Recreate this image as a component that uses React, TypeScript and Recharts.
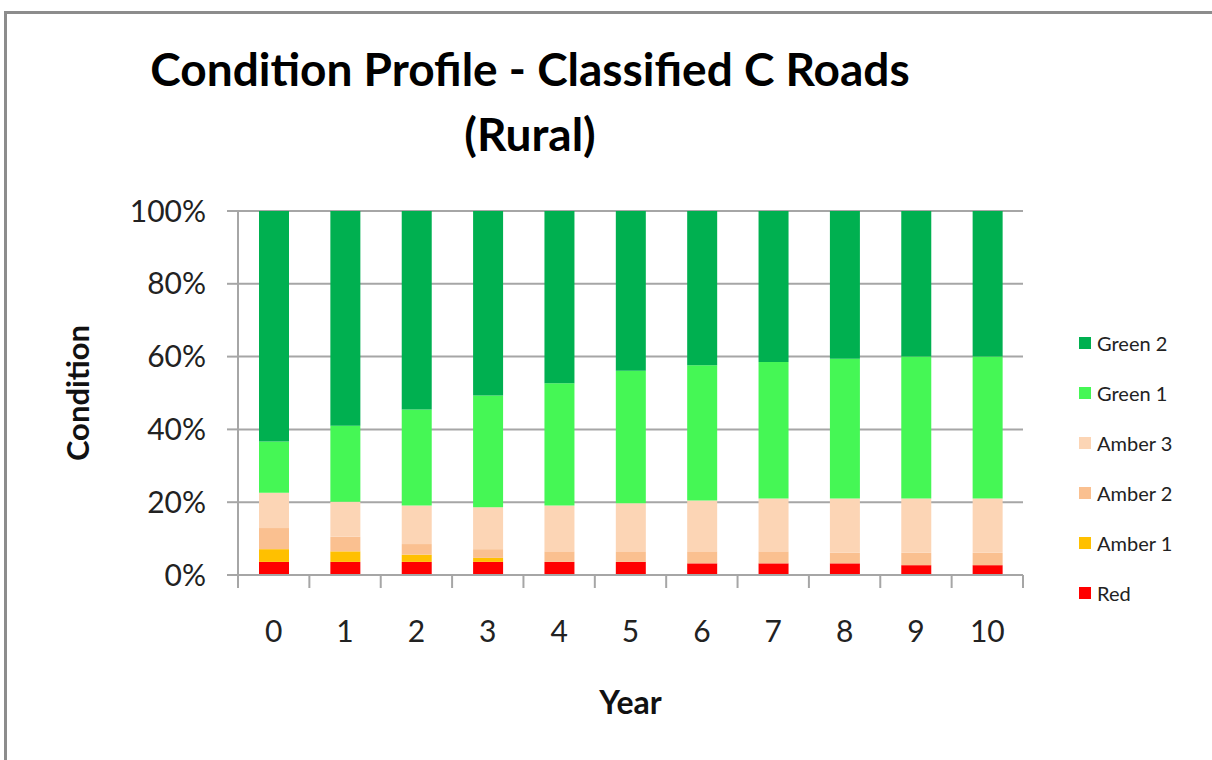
import { BarChart, Bar, XAxis, YAxis, CartesianGrid } from 'recharts';

const years = ['0', '1', '2', '3', '4', '5', '6', '7', '8', '9', '10'];
const red = [3.6, 3.6, 3.6, 3.6, 3.6, 3.6, 3.2, 3.2, 3.2, 2.7, 2.7];
const amber1 = [3.5, 2.9, 2.0, 1.1, 0, 0, 0, 0, 0, 0, 0];
const amber2 = [5.8, 4.0, 2.9, 2.4, 2.9, 2.9, 3.3, 3.3, 2.9, 3.4, 3.4];
const amber3 = [9.7, 9.6, 10.6, 11.5, 12.6, 13.2, 14.0, 14.5, 14.9, 14.9, 14.9];
const green1 = [14.1, 20.9, 26.4, 30.7, 33.6, 36.4, 37.1, 37.5, 38.4, 39.0, 39.0];
const green2 = [63.3, 59.0, 54.5, 50.7, 47.3, 43.9, 42.4, 41.5, 40.6, 40.0, 40.0];
const yTicks = [0, 20, 40, 60, 80, 100];

const series = [
  { key: 'red', name: 'Red', color: '#FF0000', values: red },
  { key: 'amber1', name: 'Amber 1', color: '#FFC000', values: amber1 },
  { key: 'amber2', name: 'Amber 2', color: '#FAC090', values: amber2 },
  { key: 'amber3', name: 'Amber 3', color: '#FCD5B5', values: amber3 },
  { key: 'green1', name: 'Green 1', color: '#45F755', values: green1 },
  { key: 'green2', name: 'Green 2', color: '#00B050', values: green2 },
];

const data = years.map((year, i) => {
  const row: Record<string, string | number> = { year };
  series.forEach((s) => {
    row[s.key] = s.values[i];
  });
  return row;
});

const W = 1212;
const H = 760;
const margin = { top: 211, right: 189, bottom: 0, left: 118 };
const Y_AXIS_W = 120;
const X_AXIS_H = 185;
const FONT = 'Lato, "Open Sans", sans-serif';
const GRID = '#A6A6A6';

const plotWidth = W - margin.left - Y_AXIS_W - margin.right;
const band = plotWidth / years.length;

// category tick: text in the middle, tick marks on the category boundaries (Excel style)
const XTick = (props: any) => {
  const { x, y, payload, index } = props;
  const top = y - 36;
  return (
    <g>
      <line x1={x - band / 2} x2={x - band / 2} y1={top} y2={top + 13} stroke={GRID} strokeWidth={2} />
      {index === years.length - 1 && (
        <line x1={x + band / 2} x2={x + band / 2} y1={top} y2={top + 13} stroke={GRID} strokeWidth={2} />
      )}
      <text x={x} y={y + 31} textAnchor="middle" fontSize={30} fill="#222" fontFamily={FONT}>
        {payload.value}
      </text>
    </g>
  );
};

export default function App() {
  return (
    <div style={{ position: 'absolute', left: 0, top: 0, width: W, height: H, background: '#fff', overflow: 'hidden' }}>
      <div
        style={{
          position: 'absolute',
          left: 4,
          top: 11,
          width: W,
          height: H,
          borderLeft: '3px solid #8C8C8C',
          borderTop: '3px solid #8C8C8C',
        }}
      />
      <div
        style={{
          position: 'absolute',
          left: 0,
          top: 36,
          width: 1060,
          textAlign: 'center',
          fontFamily: FONT,
          fontWeight: 700,
          fontSize: 46,
          lineHeight: '65px',
          color: '#000',
        }}
      >
        Condition Profile - Classified C Roads
        <br />
        (Rural)
      </div>
      <div style={{ position: 'absolute', left: 0, top: 0 }}>
        <BarChart width={W} height={H} data={data} margin={margin} barSize={30}>
          <CartesianGrid vertical={false} stroke={GRID} strokeWidth={2} />
          <XAxis
            dataKey="year"
            height={X_AXIS_H}
            stroke={GRID}
            strokeWidth={2}
            tickLine={false}
            tick={<XTick />}
            tickMargin={30}
            interval={0}
            label={{ value: 'Year', position: 'insideBottom', offset: 46, fontSize: 32, fontWeight: 700, fill: '#111', fontFamily: FONT }}
          />
          <YAxis
            width={Y_AXIS_W}
            domain={[0, 100]}
            ticks={yTicks}
            tickFormatter={(v) => `${v}%`}
            stroke={GRID}
            strokeWidth={2}
            tickSize={11}
            tickMargin={21}
            tick={{ fontSize: 30, fill: '#222', fontFamily: FONT }}
            label={{ value: 'Condition', angle: -90, position: 'insideLeft', offset: -40, fontSize: 31, fontWeight: 700, fill: '#111', fontFamily: FONT, style: { textAnchor: 'middle' } }}
          />
          {series.map((s) => (
            <Bar key={s.key} dataKey={s.key} name={s.name} stackId="a" fill={s.color} isAnimationActive={false} />
          ))}
        </BarChart>
      </div>
      <div style={{ position: 'absolute', left: 1079, top: 318, fontFamily: FONT, fontSize: 20, color: '#222' }}>
        {[...series].reverse().map((s) => (
          <div key={s.key} style={{ display: 'flex', alignItems: 'center', height: 50 }}>
            <span style={{ width: 12, height: 12, background: s.color, marginRight: 6, display: 'inline-block' }} />
            <span>{s.name}</span>
          </div>
        ))}
      </div>
    </div>
  );
}
